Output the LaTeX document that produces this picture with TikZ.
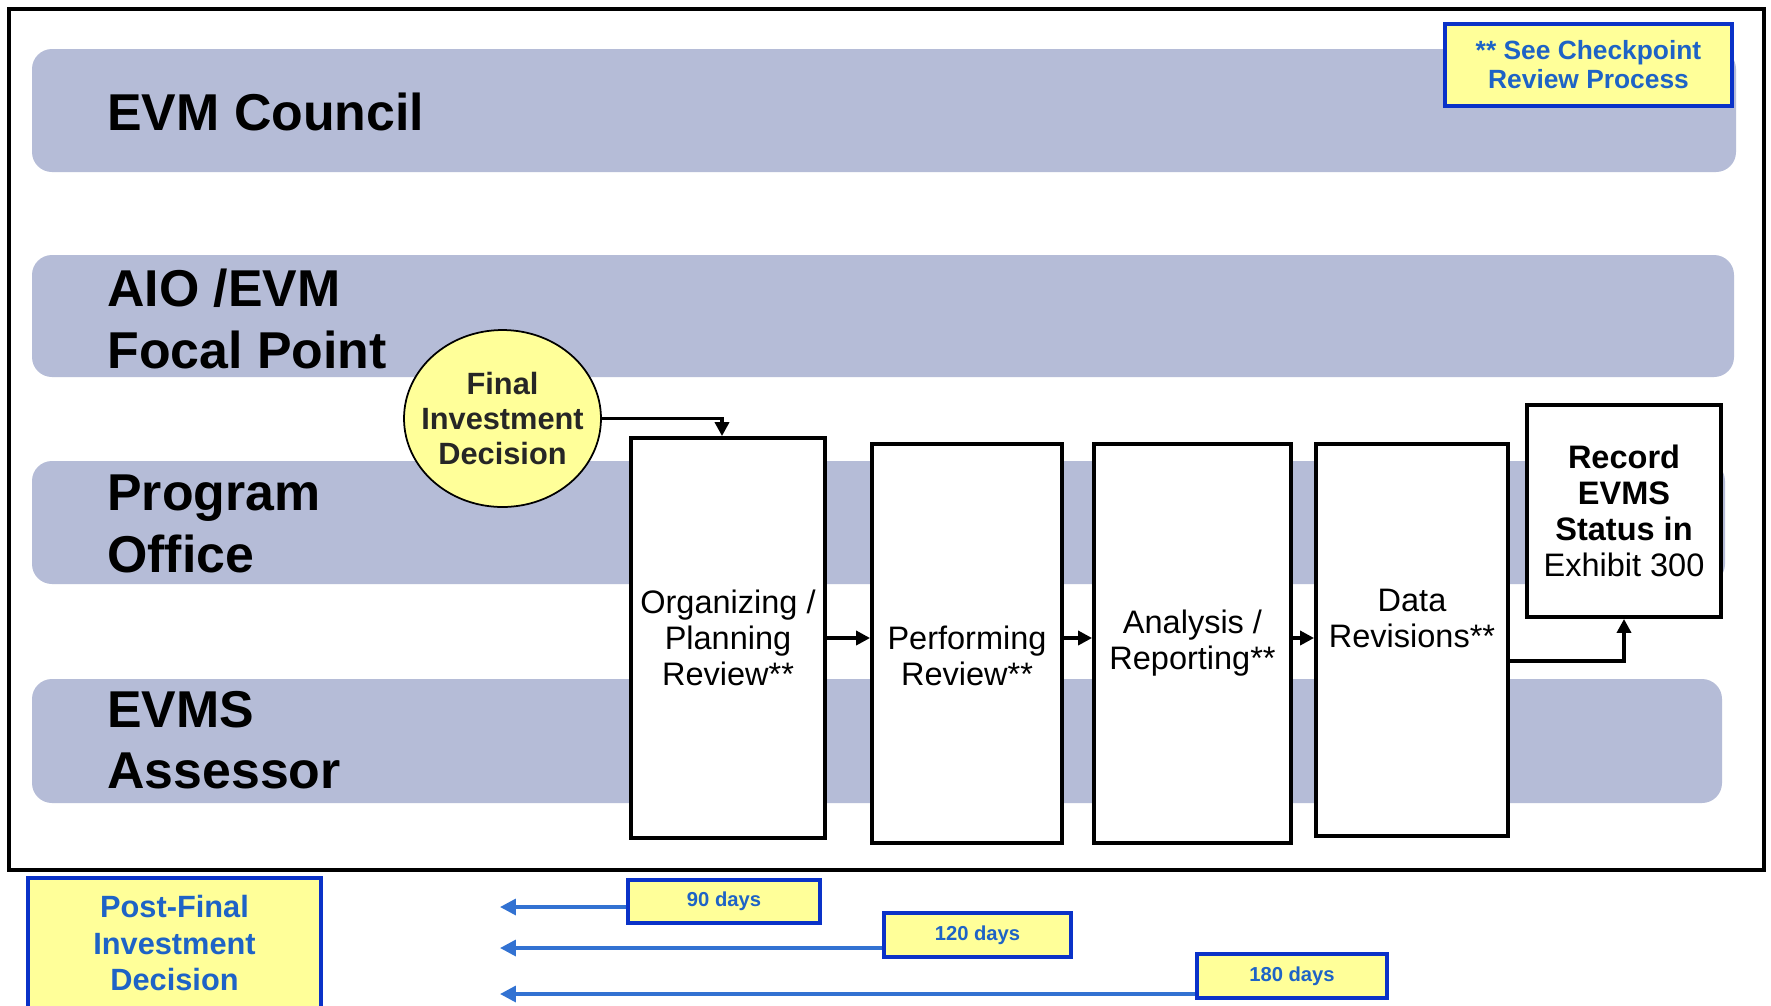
\documentclass[tikz,border=0pt]{standalone}
\usepackage{fontspec}
\setmainfont{Liberation Sans}
\usetikzlibrary{arrows.meta,shapes.geometric,calc}
\definecolor{laneblue}{HTML}{B5BCD7}
\definecolor{noteyellow}{HTML}{FFFF99}
\definecolor{edgeblue}{HTML}{0A32C8}
\definecolor{textblue}{HTML}{1E63C6}
\definecolor{lineblue}{HTML}{3272D2}

\tikzset{
  lanelabel/.style={anchor=west,align=left,inner sep=0pt,font=\fontsize{29.5}{35}\selectfont\bfseries},
  stage/.style={draw=black,line width=2.2pt,fill=white,inner sep=0pt,align=center,font=\fontsize{18.5}{20.5}\selectfont},
  stagetext/.style={align=center,inner sep=0pt,font=\fontsize{18.5}{20.5}\selectfont},
  flow/.style={-{Triangle[length=8pt,width=8pt]},line width=2.1pt},
  notebox/.style={draw=edgeblue,line width=2.2pt,fill=noteyellow,inner sep=0pt,align=center,text=textblue},
  dayflow/.style={-{Triangle[length=9pt,width=9pt]},draw=lineblue,line width=2pt},
}

\begin{document}
\begin{tikzpicture}[x=0.02cm,y=-0.02cm]
\useasboundingbox (0,0) rectangle (1771,1005);
\fill[white] (0,0) rectangle (1771,1005);
\draw[line width=2.2pt] (9,9) rectangle (1764,870);
% swim lanes
\foreach \top/\bot/\rgt in {49/172/1736,255/377/1734,461/584/1725,679/803/1722}
  \fill[laneblue,rounded corners=0.4cm] (32,\top) rectangle (\rgt,\bot);
\node[lanelabel] (council) at (107,112) {EVM Council};
\node[lanelabel] (focal) at (107,319) {AIO /EVM\\Focal Point};
\node[lanelabel] (progoff) at (107,524) {Program\\Office};
\node[lanelabel] (assessor) at (107,740) {EVMS\\Assessor};

\node[notebox,minimum width=5.74cm,minimum height=1.64cm,font=\fontsize{15}{16.5}\selectfont\bfseries] (checkpt) at (1588.5,65) {** See Checkpoint\\Review Process};

% decision and review stages
\node[ellipse,draw,line width=1pt,fill=noteyellow,minimum width=3.94cm,minimum height=3.54cm,inner sep=0pt,
  label={[align=center,inner sep=0pt,text=black!85,font=\fontsize{17.5}{20}\selectfont\bfseries]center:Final\\Investment\\Decision}] (fid) at (502.5,418.5) {};
\node[stage,minimum width=3.88cm,minimum height=8cm] (orgn) at (728,638) {Organizing /\\Planning\\Review**};
\node[stage,minimum width=3.8cm,minimum height=7.98cm,label={[stagetext,yshift=-0.24cm]center:Performing\\Review**}] (perf) at (967,643.5) {};
\node[stage,minimum width=3.94cm,minimum height=7.98cm] (anly) at (1192.5,643.5) {Analysis /\\Reporting**};
\node[stage,minimum width=3.84cm,minimum height=7.84cm,label={[stagetext,yshift=0.44cm]center:Data\\Revisions**}] (data) at (1412,640) {};
\node[stage,minimum width=3.88cm,minimum height=4.24cm,font=\fontsize{18.5}{20.5}\selectfont] (rec) at (1624,511) {\textbf{Record}\\\textbf{EVMS}\\\textbf{Status in}\\Exhibit 300};

\draw[flow] (fid.east) -| ([xshift=-0.12cm]orgn.north);
\draw[flow] (orgn.east) -- (perf.west |- orgn.east);
\draw[flow] (perf.east |- orgn.east) -- (anly.west |- orgn.east);
\draw[flow] (anly.east |- orgn.east) -- (data.west |- orgn.east);
\draw[flow] ([yshift=-0.42cm]data.east) -| (rec.south);

% time line below the frame
\node[notebox,minimum width=5.86cm,minimum height=2.6cm,font=\fontsize{17.5}{20.5}\selectfont\bfseries] (postfid) at (174.5,943) {Post-Final\\Investment\\Decision};
\node[notebox,minimum width=3.84cm,minimum height=0.86cm,font=\fontsize{11.5}{13}\selectfont\bfseries] (d90) at (724,901.5) {90 days};
\node[notebox,minimum width=3.74cm,minimum height=0.88cm,font=\fontsize{11.5}{13}\selectfont\bfseries] (d120) at (977.5,935) {120 days};
\node[notebox,minimum width=3.8cm,minimum height=0.88cm,font=\fontsize{11.5}{13}\selectfont\bfseries] (d180) at (1292,976) {180 days};
\coordinate (end90) at (500,907);
\coordinate (end120) at (500,948);
\coordinate (end180) at (500,994);
\draw[dayflow] (d90.west |- end90) -- (end90);
\draw[dayflow] (d120.west |- end120) -- (end120);
\draw[dayflow] (d180.west |- end180) -- (end180);
\end{tikzpicture}
\end{document}
